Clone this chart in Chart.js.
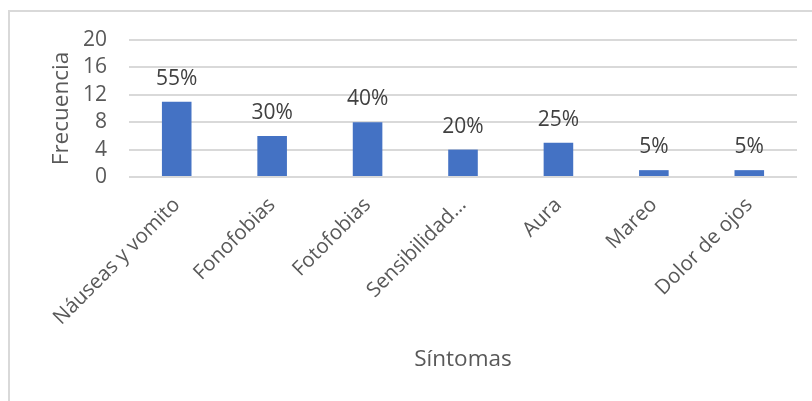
<!DOCTYPE html>
<html>
<head>
<meta charset="utf-8">
<script src="https://cdn.jsdelivr.net/npm/chart.js@4/dist/chart.umd.min.js"></script>
<style>
  html, body { margin: 0; padding: 0; background: #fff; }
  #wrap { position: relative; width: 812px; height: 401px; }
</style>
</head>
<body>
<div id="wrap"><canvas id="grafico"></canvas></div>
<script>
const sintomas = ['Náuseas y vomito', 'Fonofobias', 'Fotofobias', 'Sensibilidad…', 'Aura', 'Mareo', 'Dolor de ojos'];
const frecuencias = [11, 6, 8, 4, 5, 1, 1];
const totalPacientes = 20;
const ticksY = [0, 4, 8, 12, 16, 20];

const familia = '"Open Sans", sans-serif';
const gris = '#595959';

// marco gris claro alrededor del gráfico
const marco = {
  id: 'marco',
  beforeDraw(chart) {
    const { ctx, width, height } = chart;
    ctx.save();
    ctx.strokeStyle = '#d9d9d9';
    ctx.lineWidth = 2;
    ctx.beginPath();
    ctx.moveTo(9, height);
    ctx.lineTo(9, 11);
    ctx.lineTo(width, 11);
    ctx.stroke();
    ctx.restore();
  }
};

// porcentaje encima de cada barra
const porcentajes = {
  id: 'porcentajes',
  afterDatasetsDraw(chart) {
    const { ctx } = chart;
    const meta = chart.getDatasetMeta(0);
    ctx.save();
    ctx.font = '21px ' + familia;
    ctx.fillStyle = '#404040';
    ctx.textAlign = 'center';
    ctx.textBaseline = 'middle';
    meta.data.forEach((bar, i) => {
      const pct = Math.round(frecuencias[i] / totalPacientes * 100);
      ctx.fillText(pct + '%', bar.x, bar.y - 23);
    });
    ctx.restore();
  }
};

new Chart(document.getElementById('grafico'), {
  type: 'bar',
  data: {
    labels: sintomas,
    datasets: [{
      data: frecuencias,
      backgroundColor: '#4472C4',
      barPercentage: 0.31,
      categoryPercentage: 1
    }]
  },
  options: {
    responsive: true,
    maintainAspectRatio: false,
    animation: false,
    layout: { padding: { left: 0, top: 40, right: 15, bottom: 0 } },
    plugins: {
      legend: { display: false },
      tooltip: { enabled: false }
    },
    scales: {
      x: {
        grid: { display: false },
        border: { display: false },
        ticks: {
          color: gris,
          font: { family: familia, size: 20.5 },
          minRotation: 45,
          maxRotation: 45,
          autoSkip: false,
          padding: 8
        },
        title: {
          display: true,
          text: 'Síntomas',
          color: gris,
          font: { family: familia, size: 22.5 },
          padding: { top: 0, bottom: 28 }
        },
        afterFit(scale) { scale.height = 224; }
      },
      y: {
        min: 0,
        max: 20,
        afterBuildTicks(scale) { scale.ticks = ticksY.map(v => ({ value: v })); },
        grid: { color: '#d9d9d9', lineWidth: 2, drawTicks: false },
        border: { display: false },
        ticks: { color: gris, font: { family: familia, size: 21 }, padding: 22, autoSkip: false },
        title: {
          display: true,
          text: 'Frecuencia',
          color: gris,
          font: { family: familia, size: 22.5 },
          padding: { top: 48, bottom: 0 }
        },
        afterFit(scale) { scale.width = 129; }
      }
    }
  },
  plugins: [marco, porcentajes]
});
</script>
</body>
</html>
